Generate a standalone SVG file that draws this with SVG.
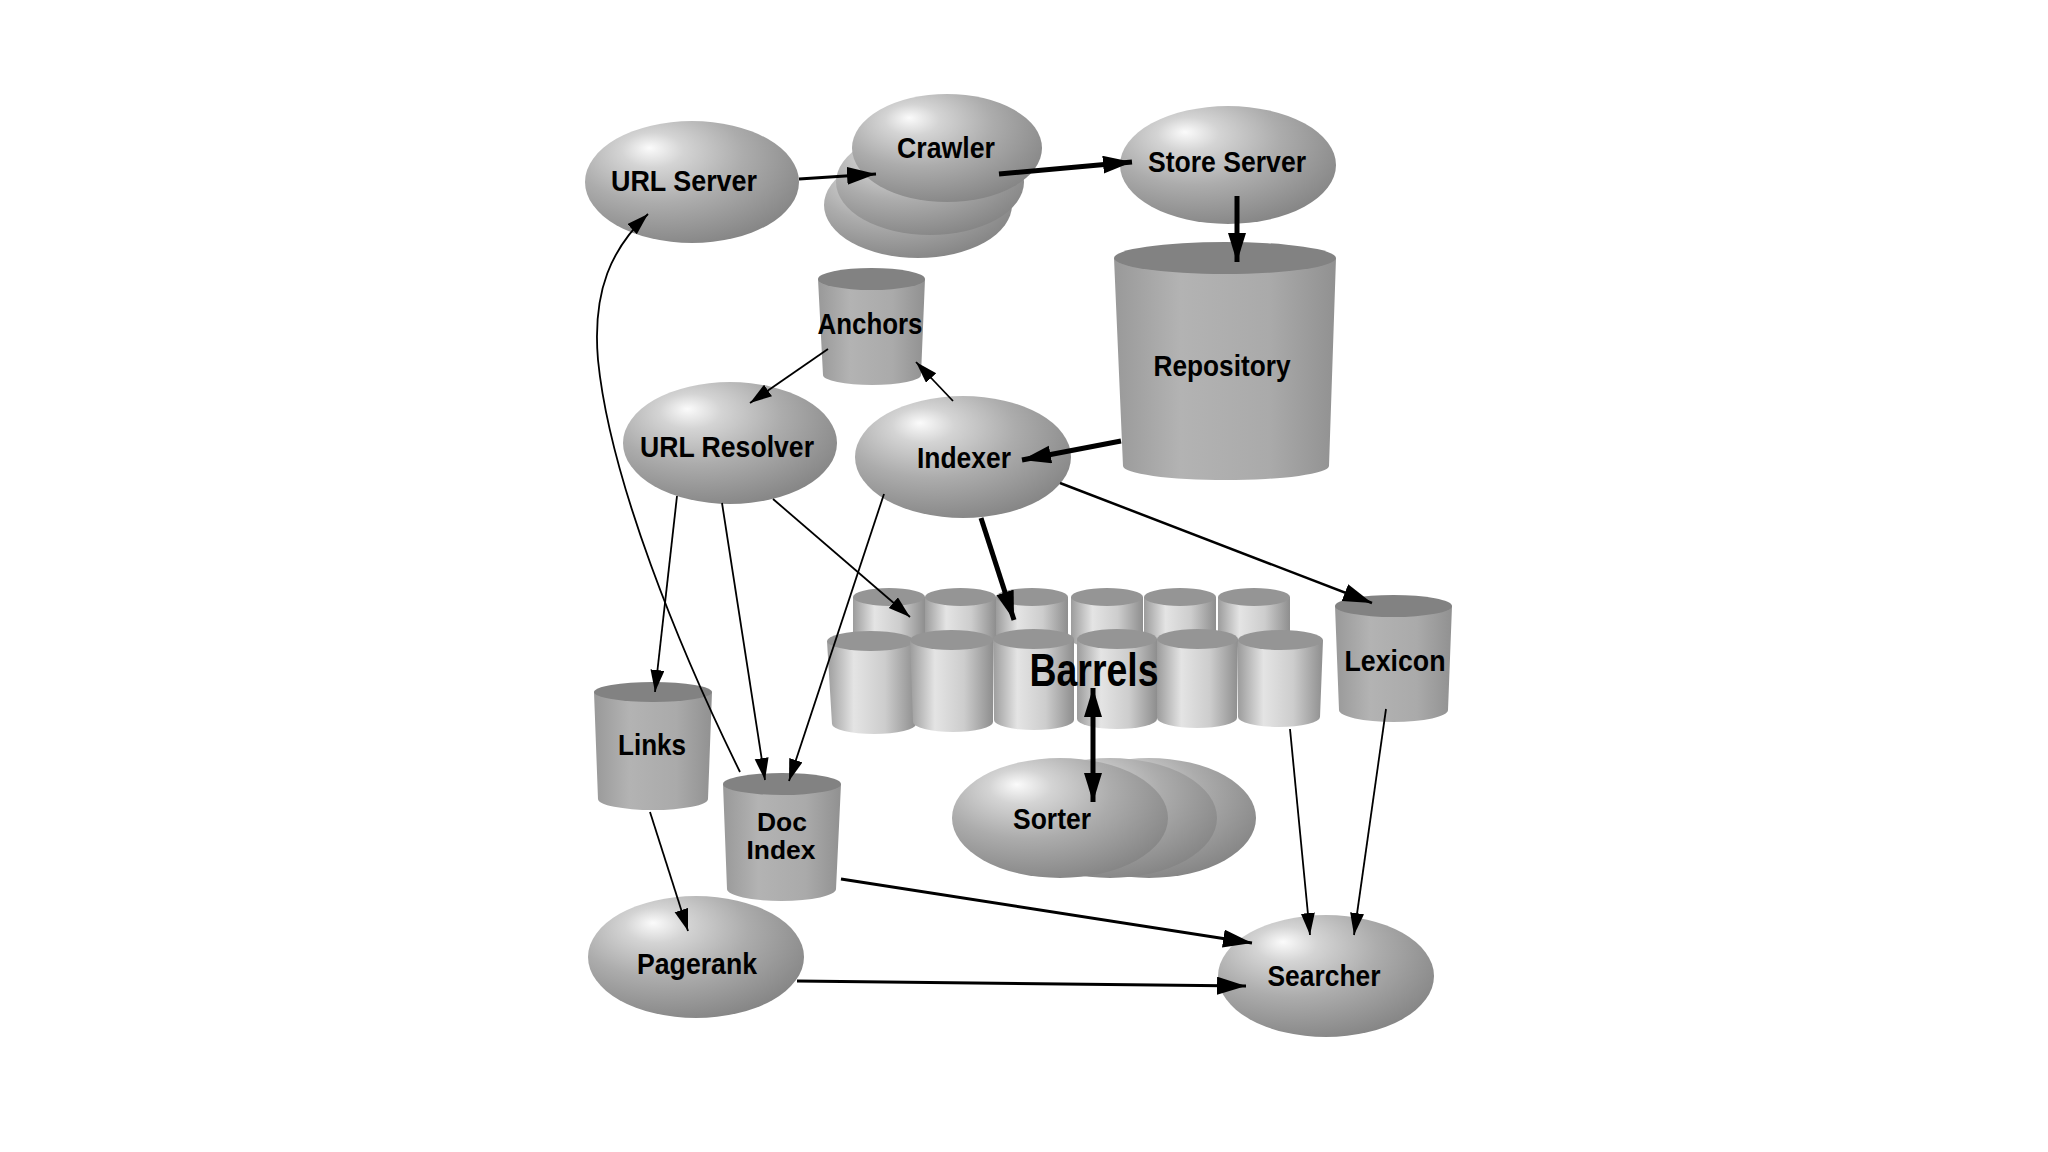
<svg xmlns="http://www.w3.org/2000/svg" width="2048" height="1152" viewBox="0 0 2048 1152">
<defs>
<radialGradient id="sph" cx="0.38" cy="0.32" r="0.72" fx="0.3" fy="0.22">
<stop offset="0" stop-color="#fbfbfb"/>
<stop offset="0.2" stop-color="#d4d4d4"/>
<stop offset="0.55" stop-color="#acacac"/>
<stop offset="1" stop-color="#858585"/>
</radialGradient>
<linearGradient id="cyl" x1="0" y1="0" x2="1" y2="0">
<stop offset="0" stop-color="#999"/>
<stop offset="0.3" stop-color="#b3b3b3"/>
<stop offset="0.7" stop-color="#aaa"/>
<stop offset="1" stop-color="#919191"/>
</linearGradient>
<linearGradient id="bar" x1="0" y1="0" x2="1" y2="0">
<stop offset="0" stop-color="#9c9c9c"/>
<stop offset="0.3" stop-color="#e4e4e4"/>
<stop offset="0.65" stop-color="#cdcdcd"/>
<stop offset="1" stop-color="#8e8e8e"/>
</linearGradient>
<marker id="big" markerUnits="userSpaceOnUse" markerWidth="30" markerHeight="20" refX="29" refY="9" orient="auto-start-reverse">
<path d="M0,0 L29,9 L0,18 z" fill="#000"/>
</marker>
<marker id="sm" markerUnits="userSpaceOnUse" markerWidth="24" markerHeight="16" refX="22" refY="7" orient="auto">
<path d="M0,0 L22,7 L0,14 z" fill="#000"/>
</marker>
</defs>
<style>
.s{fill:url(#sph)}
.c{fill:url(#cyl)}
.ct{fill:#828282}
.b{fill:url(#bar)}
.bt{fill:#959595}
.t{font-family:"Liberation Sans",Arial,sans-serif;font-weight:bold;font-size:29px;fill:#000;text-anchor:middle}
.l{fill:none;stroke:#000}
.th{stroke-width:1.8;marker-end:url(#sm)}
.md{stroke-width:3;marker-end:url(#big)}
.tk{stroke-width:5;marker-end:url(#big)}
</style>
<rect width="2048" height="1152" fill="#fff"/>

<g id="url-server">
<ellipse class="s" cx="692" cy="182" rx="107" ry="61"/>
<text class="t" x="684" y="191" textLength="146" lengthAdjust="spacingAndGlyphs">URL Server</text>
</g>

<g id="crawler">
<ellipse class="s" cx="918" cy="205" rx="94" ry="53"/>
<ellipse class="s" cx="930" cy="182" rx="94" ry="53"/>
<ellipse class="s" cx="947" cy="148" rx="95" ry="54"/>
<text class="t" x="946" y="158" textLength="98" lengthAdjust="spacingAndGlyphs">Crawler</text>
</g>

<g id="store-server">
<ellipse class="s" cx="1228" cy="165" rx="108" ry="59"/>
<text class="t" x="1227" y="172" textLength="158" lengthAdjust="spacingAndGlyphs">Store Server</text>
</g>

<g id="repository">
<path class="c" d="M1114,258 L1123,466 A103 14 0 0 0 1329,466 L1336,258 Z"/>
<ellipse class="ct" cx="1225" cy="258" rx="111" ry="16"/>
<text class="t" x="1222" y="376" textLength="137" lengthAdjust="spacingAndGlyphs">Repository</text>
</g>

<g id="anchors">
<path class="c" d="M818,279 L823,375 A49 10 0 0 0 921,375 L925,279 Z"/>
<ellipse class="ct" cx="871.5" cy="279" rx="53.5" ry="11"/>
<text class="t" x="870" y="334" textLength="105" lengthAdjust="spacingAndGlyphs">Anchors</text>
</g>

<g id="url-resolver">
<ellipse class="s" cx="730" cy="443" rx="107" ry="61"/>
<text class="t" x="727" y="457" textLength="174" lengthAdjust="spacingAndGlyphs">URL Resolver</text>
</g>

<g id="indexer">
<ellipse class="s" cx="963" cy="457" rx="108" ry="61"/>
<text class="t" x="964" y="468" textLength="94" lengthAdjust="spacingAndGlyphs">Indexer</text>
</g>

<g id="barrels">
<g>
<path class="b" d="M853,597 L853,640 A36 8 0 0 0 925,640 L925,597 Z"/><ellipse class="bt" cx="889" cy="597" rx="36" ry="9"/>
<path class="b" d="M925,597 L925,640 A35.5 8 0 0 0 996,640 L996,597 Z"/><ellipse class="bt" cx="960.5" cy="597" rx="35.5" ry="9"/>
<path class="b" d="M996,597 L996,640 A36 8 0 0 0 1068,640 L1068,597 Z"/><ellipse class="bt" cx="1032" cy="597" rx="36" ry="9"/>
<path class="b" d="M1071,597 L1071,640 A36 8 0 0 0 1143,640 L1143,597 Z"/><ellipse class="bt" cx="1107" cy="597" rx="36" ry="9"/>
<path class="b" d="M1144,597 L1144,640 A36 8 0 0 0 1216,640 L1216,597 Z"/><ellipse class="bt" cx="1180" cy="597" rx="36" ry="9"/>
<path class="b" d="M1218,597 L1218,640 A36 8 0 0 0 1290,640 L1290,597 Z"/><ellipse class="bt" cx="1254" cy="597" rx="36" ry="9"/>
</g>
<g>
<path class="b" d="M827,641 L832,724 A42 10 0 0 0 916,724 L914,641 Z"/><ellipse class="bt" cx="870.5" cy="641" rx="43.5" ry="10"/>
<path class="b" d="M910,640 L913,722 A40 10 0 0 0 993,722 L993,640 Z"/><ellipse class="bt" cx="951.5" cy="640" rx="41.5" ry="10"/>
<path class="b" d="M993,639 L994,720 A40 10 0 0 0 1074,720 L1074,639 Z"/><ellipse class="bt" cx="1033.5" cy="639" rx="40.5" ry="10"/>
<path class="b" d="M1077,639 L1077,719 A40 10 0 0 0 1157,719 L1157,639 Z"/><ellipse class="bt" cx="1117" cy="639" rx="40" ry="10"/>
<path class="b" d="M1157,639 L1157,718 A40 10 0 0 0 1237,718 L1238,639 Z"/><ellipse class="bt" cx="1197.5" cy="639" rx="40.5" ry="10"/>
<path class="b" d="M1238,640 L1238,717 A41 10 0 0 0 1320,717 L1323,640 Z"/><ellipse class="bt" cx="1280.5" cy="640" rx="42.5" ry="10"/>
</g>
<text class="t" x="1094" y="686" style="font-size:46px" textLength="129" lengthAdjust="spacingAndGlyphs">Barrels</text>
</g>

<g id="lexicon">
<path class="c" d="M1335,606 L1339,710 A54.5 12 0 0 0 1448,710 L1452,606 Z"/>
<ellipse class="ct" cx="1393.5" cy="606" rx="58.5" ry="11"/>
<text class="t" x="1395" y="671" textLength="101" lengthAdjust="spacingAndGlyphs">Lexicon</text>
</g>

<g id="links">
<path class="c" d="M594,692 L598,799 A55 11 0 0 0 708,799 L712,692 Z"/>
<ellipse class="ct" cx="653" cy="692" rx="59" ry="10"/>
<text class="t" x="652" y="755" textLength="68" lengthAdjust="spacingAndGlyphs">Links</text>
</g>

<g id="doc-index">
<path class="c" d="M723,784 L727,889 A54.5 12 0 0 0 836,889 L841,784 Z"/>
<ellipse class="ct" cx="782" cy="784" rx="59" ry="11"/>
<text class="t" x="782" y="831" style="font-size:25px" textLength="50" lengthAdjust="spacingAndGlyphs">Doc</text>
<text class="t" x="781" y="859" style="font-size:25px" textLength="69" lengthAdjust="spacingAndGlyphs">Index</text>
</g>

<g id="sorter">
<ellipse class="s" cx="1149" cy="818" rx="107" ry="60"/>
<ellipse class="s" cx="1110" cy="818" rx="107" ry="60"/>
<ellipse class="s" cx="1060" cy="818" rx="108" ry="60"/>
<text class="t" x="1052" y="829" textLength="78" lengthAdjust="spacingAndGlyphs">Sorter</text>
</g>

<g id="pagerank">
<ellipse class="s" cx="696" cy="957" rx="108" ry="61"/>
<text class="t" x="697" y="974" textLength="120" lengthAdjust="spacingAndGlyphs">Pagerank</text>
</g>

<g id="searcher">
<ellipse class="s" cx="1326" cy="976" rx="108" ry="61"/>
<text class="t" x="1324" y="986" textLength="113" lengthAdjust="spacingAndGlyphs">Searcher</text>
</g>

<g id="connectors">
<line class="l md" x1="799" y1="179" x2="876" y2="174"/>
<line class="l tk" x1="999" y1="174" x2="1132" y2="162"/>
<line class="l tk" x1="1237" y1="196" x2="1237" y2="262"/>
<line class="l tk" x1="1121" y1="441" x2="1022" y2="460"/>
<line class="l th" x1="953" y1="401" x2="916" y2="362"/>
<line class="l th" x1="828" y1="349" x2="750" y2="403"/>
<line class="l th" x1="677" y1="496" x2="655" y2="692"/>
<line class="l th" x1="722" y1="503" x2="765" y2="780"/>
<line class="l th" x1="773" y1="499" x2="910" y2="617"/>
<line class="l th" x1="884" y1="494" x2="789" y2="781"/>
<line class="l tk" x1="981" y1="518" x2="1014" y2="620"/>
<line class="l md" style="stroke-width:2.5" x1="1060" y1="483" x2="1372" y2="603"/>
<path class="l th" d="M740,772 C680,650 610,480 598,360 C592,290 612,248 648,214"/>
<line class="l th" x1="650" y1="812" x2="688" y2="931"/>
<line class="l md" x1="841" y1="879" x2="1252" y2="943"/>
<line class="l md" x1="797" y1="981" x2="1246" y2="986"/>
<line class="l th" x1="1290" y1="729" x2="1310" y2="935"/>
<line class="l th" x1="1386" y1="709" x2="1354" y2="935"/>
<line class="l tk" style="marker-start:url(#big)" x1="1093" y1="688" x2="1093" y2="802"/>
</g>
</svg>
